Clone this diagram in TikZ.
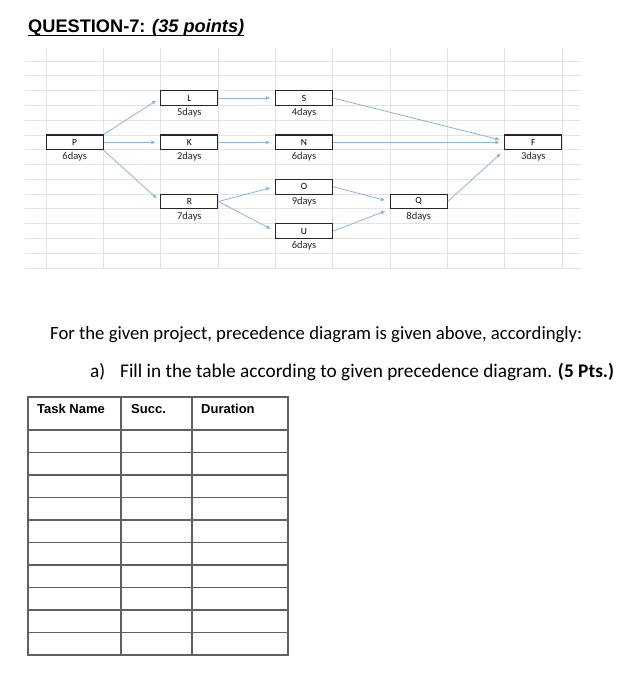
\documentclass[tikz,border=0pt]{standalone}
\usepackage{fontspec}
\setmainfont{Carlito}
\newfontfamily\arialfont{Liberation Sans}
\usetikzlibrary{arrows.meta}
\definecolor{gridgray}{HTML}{E3E3E3}
\definecolor{arrowblue}{HTML}{8DB3E2}
\definecolor{tablegray}{HTML}{606060}
\begin{document}
\begin{tikzpicture}[x=1pt,y=-1pt,
  gridline/.style={draw=gridgray, line width=0.8pt},
  taskbox/.style={draw=black!85, line width=1.1pt, fill=white, minimum width=57pt, minimum height=14.8pt, inner sep=0pt, font=\fontsize{9.5}{10}\selectfont},
  dur/.style={inner sep=0pt, font=\fontsize{10.5}{11}\selectfont, text=black!85},
  link/.style={draw=arrowblue, line width=0.8pt, -{Triangle[length=4pt,width=3.5pt]}, shorten >=5pt},
  tableline/.style={draw=tablegray, line width=1.3pt},
  headtext/.style={anchor=base west, inner sep=0pt, font=\arialfont\bfseries\fontsize{13}{15}\selectfont},
  bodytext/.style={anchor=base west, inner sep=0pt, font=\fontsize{18.7}{22}\selectfont}]
\useasboundingbox (0,0) rectangle (620,700);
\fill[white] (0,0) rectangle (620,700);
% spreadsheet grid
\foreach \i in {0,...,14} \draw[gridline] (25,61+14.786*\i) -- (580,61+14.786*\i);
\foreach \j in {0,...,9} \draw[gridline] (46+57.33*\j,48) -- (46+57.33*\j,268);
% title
\node[anchor=base west, inner sep=0pt, font=\arialfont\bfseries\fontsize{18.2}{20}\selectfont] (title) at (28,33) {QUESTION-7: \textit{(35 points)}};
\draw[line width=1.2pt] ([yshift=-2.5pt]title.base west) -- ([yshift=-2.5pt]title.base east);
% tasks
\node[taskbox] (P) at (74.67,142.4) {P};
\node[dur] (Pd) at (74.67,157.2) {6days};
\node[taskbox] (L) at (189.33,98.0) {L};
\node[dur] (Ld) at (189.33,112.8) {5days};
\node[taskbox] (K) at (189.33,142.4) {K};
\node[dur] (Kd) at (189.33,157.2) {2days};
\node[taskbox] (R) at (189.33,201.5) {R};
\node[dur] (Rd) at (189.33,216.3) {7days};
\node[taskbox] (S) at (304,98.0) {S};
\node[dur] (Sd) at (304,112.8) {4days};
\node[taskbox] (N) at (304,142.4) {N};
\node[dur] (Nd) at (304,157.2) {6days};
\node[taskbox] (O) at (304,186.7) {O};
\node[dur] (Od) at (304,201.5) {9days};
\node[taskbox] (U) at (304,231.1) {U};
\node[dur] (Ud) at (304,245.9) {6days};
\node[taskbox] (Q) at (418.67,201.5) {Q};
\node[dur] (Qd) at (418.67,216.3) {8days};
\node[taskbox] (F) at (533.33,142.4) {F};
\node[dur] (Fd) at (533.33,157.2) {3days};
% links
\draw[link] (P.north east) -- (L.west);
\draw[link] (P.east) -- (K.west);
\draw[link] (P.south east) -- (R.west);
\draw[link] (L.east) -- (S.west);
\draw[link] (K.east) -- (N.west);
\draw[link] (R.east) -- (O.west);
\draw[link] (R.east) -- (U.west);
\draw[link] (S.east) -- ([yshift=1.5pt]F.west);
\draw[link] (N.east) -- (F.west);
\draw[link] (O.east) -- (Q.west);
\draw[link] (U.east) -- (Q.south west);
\draw[link] (Q.east) -- (F.south west);
% text
\node[bodytext] (intro) at (50,339) {For the given project, precedence diagram is given above, accordingly:};
\node[bodytext, font=\fontsize{19.3}{22}\selectfont] (itema) at (90,377) {a)};
\node[bodytext, font=\fontsize{19.3}{22}\selectfont] (itemtext) at (120,377) {Fill in the table according to given precedence diagram. \textbf{(5 Pts.)}};
% table
\draw[tableline] (28,397) rectangle (288,655);
\draw[tableline] (121,397) -- (121,655);
\draw[tableline] (192,397) -- (192,655);
\foreach \i in {0,...,9} \draw[tableline] (28,430+22.5*\i) -- (288,430+22.5*\i);
\node[headtext] (h1) at (37,413) {Task Name};
\node[headtext] (h2) at (131,413) {Succ.};
\node[headtext] (h3) at (201,413) {Duration};
\end{tikzpicture}
\end{document}
